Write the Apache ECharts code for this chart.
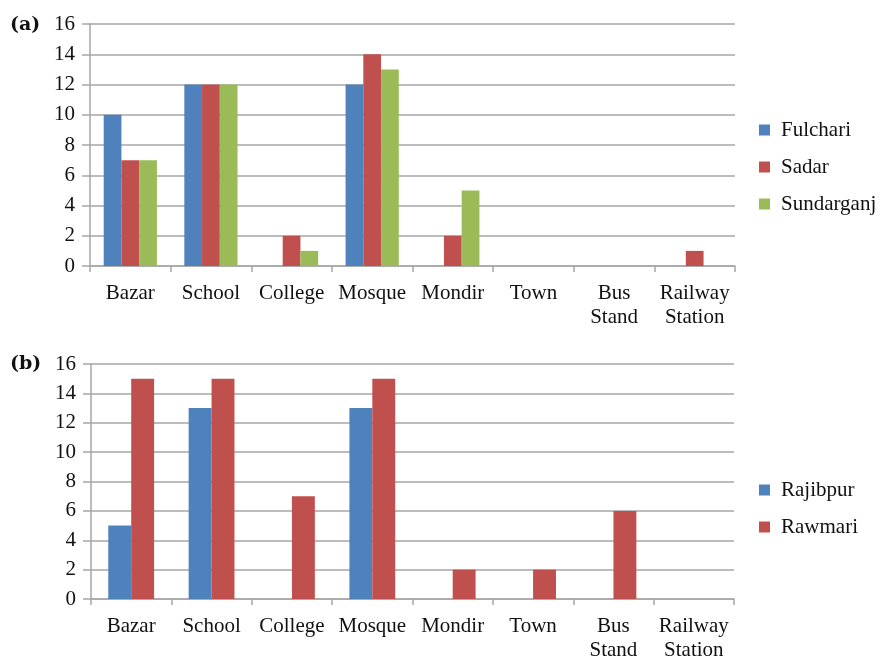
<!DOCTYPE html>
<html>
<head>
<meta charset="utf-8">
<script src="https://cdn.jsdelivr.net/npm/echarts@6/dist/echarts.min.js"></script>
<style>
  html, body { margin: 0; padding: 0; background: #fff; }
  #main { width: 881px; height: 656px; }
</style>
</head>
<body>
<div id="main"></div>
<script>
const categories = ['Bazar', 'School', 'College', 'Mosque', 'Mondir', 'Town', 'Bus\nStand', 'Railway\nStation'];
// panel (a)
const fulchari = [10, 12, 0, 12, 0, 0, 0, 0];
const sadar = [7, 12, 2, 14, 2, 0, 0, 1];
const sundarganj = [7, 12, 1, 13, 5, 0, 0, 0];
// panel (b)
const rajibpur = [5, 13, 0, 13, 0, 0, 0, 0];
const rawmari = [15, 15, 7, 15, 2, 2, 6, 0];

const BLUE = '#4F81BD', RED = '#C0504D', GREEN = '#9BBB59';
const font = '"Liberation Serif", "Times New Roman", serif';

function xAxis(gridIndex) {
  return {
    type: 'category', gridIndex, data: categories,
    axisLine: { lineStyle: { color: '#a6a6a6', width: 1.5 } },
    axisTick: { show: true, length: 6, lineStyle: { color: '#a6a6a6', width: 1.5 } },
    axisLabel: { color: '#111', fontFamily: font, fontSize: 21, margin: 15, lineHeight: 24, interval: 0 }
  };
}
function yAxis(gridIndex) {
  return {
    type: 'value', gridIndex, min: 0, max: 16, interval: 2,
    axisLine: { show: true, lineStyle: { color: '#a6a6a6', width: 1.5 } },
    axisTick: { show: true, length: 8, lineStyle: { color: '#a6a6a6', width: 1.5 } },
    splitLine: { lineStyle: { color: '#a6a6a6', width: 1.5 } },
    axisLabel: { color: '#111', fontFamily: font, fontSize: 21, margin: 15 }
  };
}
function bar(name, data, color, xi, gap) {
  return {
    name, type: 'bar', data, xAxisIndex: xi, yAxisIndex: xi,
    itemStyle: { color }, barGap: '0%', barCategoryGap: gap
  };
}
function legend(names, top) {
  return {
    data: names, orient: 'vertical', left: 759, top, padding: 0,
    itemWidth: 11, itemHeight: 11, itemGap: 16, icon: 'rect',
    textStyle: { fontFamily: font, fontSize: 21, lineHeight: 20, color: '#111', padding: [0, 0, 0, 6] }
  };
}
const titleStyle = { fontFamily: 'DejaVu Serif', fontWeight: 'bold', fontSize: 19, color: '#111' };

const chart = echarts.init(document.getElementById('main'));
chart.setOption({
  animation: false,
  title: [
    { text: '(a)', left: 10, top: 16, padding: 0, textStyle: titleStyle },
    { text: '(b)', left: 10, top: 355, padding: 0, textStyle: titleStyle }
  ],
  grid: [
    { left: 90, right: 146, top: 24, bottom: 390, outerBoundsMode: 'none', containLabel: false },
    { left: 91, right: 147, top: 364, bottom: 57, outerBoundsMode: 'none', containLabel: false }
  ],
  xAxis: [xAxis(0), xAxis(1)],
  yAxis: [yAxis(0), yAxis(1)],
  legend: [
    legend(['Fulchari', 'Sadar', 'Sundarganj'], 119.5),
    legend(['Rajibpur', 'Rawmari'], 479.5)
  ],
  series: [
    bar('Fulchari', fulchari, BLUE, 0, '34%'),
    bar('Sadar', sadar, RED, 0, '34%'),
    bar('Sundarganj', sundarganj, GREEN, 0, '34%'),
    bar('Rajibpur', rajibpur, BLUE, 1, '43%'),
    bar('Rawmari', rawmari, RED, 1, '43%')
  ]
});
</script>
</body>
</html>
